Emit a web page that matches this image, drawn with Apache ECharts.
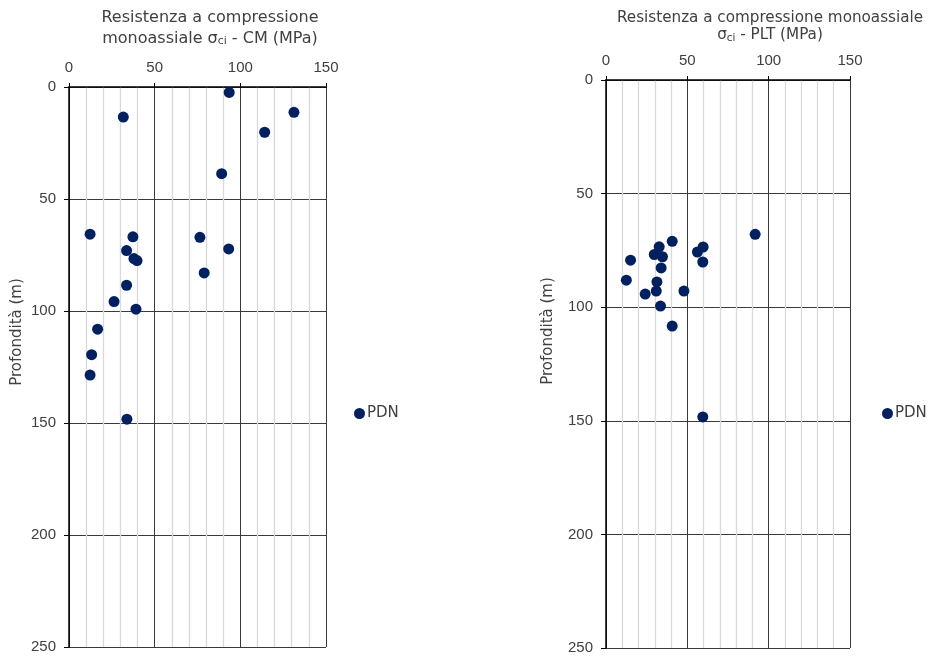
<!DOCTYPE html>
<html>
<head>
<meta charset="utf-8">
<script src="https://cdn.jsdelivr.net/npm/echarts@6/dist/echarts.min.js"></script>
<style>html,body{margin:0;padding:0;background:#fff}#c{width:929px;height:656px}</style>
</head>
<body>
<div id="c"></div>
<script>
// Left chart: CM
const cmX = [93.5, 31.7, 131.3, 114.2, 89.1, 12.3, 37.3, 76.4, 93.2, 33.6, 37.9, 39.7, 78.9, 33.6, 26.3, 39.1, 16.7, 13.2, 12.3, 33.8];
const cmY = [2.4, 13.4, 11.3, 20.2, 38.7, 65.7, 66.9, 67.1, 72.3, 73.0, 76.6, 77.5, 83.0, 88.5, 95.8, 99.2, 108.1, 119.5, 128.6, 148.3];
// Right chart: PLT
const pltX = [91.7, 40.7, 32.7, 59.7, 56.2, 29.7, 34.7, 15.1, 59.5, 33.9, 12.5, 31.3, 30.9, 47.9, 24.1, 33.5, 40.7, 59.5];
const pltY = [67.9, 71.0, 73.4, 73.5, 75.7, 76.8, 77.8, 79.3, 80.1, 82.7, 88.1, 88.9, 92.9, 92.9, 94.2, 99.5, 108.3, 148.3];

const seriesName = 'PDN';
const xTicks = [0, 50, 100, 150];
const yTicks = [0, 50, 100, 150, 200, 250];
const titleCM = ['Resistenza a compressione', 'monoassiale σ', 'ci', ' - CM (MPa)'];
const titlePLT = ['Resistenza a compressione monoassiale', 'σ', 'ci', ' - PLT (MPa)'];
const yName = 'Profondità (m)';

const FONT = '"DejaVu Sans", sans-serif';
const TICKFONT = '"Liberation Sans", Arial, sans-serif';
const TXT = '#404040';
const MARK = '#002060';

function toPairs(xs, ys) { return xs.map((x, i) => [x, ys[i]]); }

function xAxis(gi) {
  return {
    gridIndex: gi, type: 'value', position: 'top',
    min: xTicks[0], max: xTicks[xTicks.length - 1], interval: 50,
    axisLine: { show: true, onZero: false, lineStyle: { color: '#000', width: 1.5 } },
    axisTick: { show: true, inside: false, length: 4, lineStyle: { color: '#000' } },
    axisLabel: { color: TXT, fontSize: 15, fontFamily: TICKFONT, margin: 12 },
    splitLine: { show: true, lineStyle: { color: '#3a3a3a', width: 1 } },
    minorTick: { show: false, splitNumber: 5 },
    minorSplitLine: { show: true, lineStyle: { color: '#d9d9d9', width: 1.3 } }
  };
}
function yAxis(gi, gap, shift) {
  return {
    gridIndex: gi, type: 'value', inverse: true,
    min: yTicks[0], max: yTicks[yTicks.length - 1], interval: 50,
    name: yName, nameLocation: 'middle', nameGap: gap, nameRotate: 90,
    nameTextStyle: { color: TXT, fontSize: 15, fontFamily: FONT, padding: [0, 0, 0, shift] },
    axisLine: { show: true, onZero: false, lineStyle: { color: '#000', width: 1.5 } },
    axisTick: { show: true, inside: false, length: 5, lineStyle: { color: '#000' } },
    axisLabel: { color: TXT, fontSize: 15, fontFamily: TICKFONT, margin: 13 },
    splitLine: { show: true, lineStyle: { color: '#3a3a3a', width: 1 } }
  };
}
function rich(fs, lh) {
  return {
    a: { fontSize: fs, color: TXT, fontFamily: FONT, fontWeight: 'normal', lineHeight: lh },
    s: { fontSize: fs * 0.68, color: TXT, fontFamily: FONT, fontWeight: 'normal', lineHeight: lh, padding: [6, 0, 0, 0] }
  };
}

const option = {
  backgroundColor: '#fff',
  animation: false,
  textStyle: { fontFamily: FONT },
  title: [
    { text: '{a|' + titleCM[0] + '}\n{a|' + titleCM[1] + '}{s|' + titleCM[2] + '}{a|' + titleCM[3] + '}',
      left: 205, top: 2, textAlign: 'center', textStyle: { rich: rich(16, 21), fontWeight: 'normal' } },
    { text: '{a|' + titlePLT[0] + '}\n{a|' + titlePLT[1] + '}{s|' + titlePLT[2] + '}{a|' + titlePLT[3] + '}',
      left: 765, top: 5, textAlign: 'center', textStyle: { rich: rich(15.2, 17), fontWeight: 'normal' } }
  ],
  legend: [
    { data: [seriesName], left: 349, top: 401, icon: 'circle', itemWidth: 11, itemHeight: 11, itemGap: 2,
      textStyle: { color: TXT, fontSize: 15, fontFamily: FONT, padding: [0, 0, 0, -3] } },
    { data: [seriesName], left: 877, top: 401, icon: 'circle', itemWidth: 11, itemHeight: 11,
      textStyle: { color: TXT, fontSize: 15, fontFamily: FONT, padding: [0, 0, 0, -3] } }
  ],
  grid: [
    { left: 69, top: 87, width: 257, height: 560 },
    { left: 606, top: 80, width: 244, height: 568 }
  ],
  xAxis: [xAxis(0), xAxis(1)],
  yAxis: [yAxis(0, 44, 70), yAxis(1, 50, 66)],
  series: [
    { name: seriesName, type: 'scatter', xAxisIndex: 0, yAxisIndex: 0, symbolSize: 11,
      itemStyle: { color: MARK, opacity: 1 }, data: toPairs(cmX, cmY) },
    { name: seriesName, type: 'scatter', xAxisIndex: 1, yAxisIndex: 1, symbolSize: 11,
      itemStyle: { color: MARK, opacity: 1 }, data: toPairs(pltX, pltY) }
  ]
};
echarts.init(document.getElementById('c')).setOption(option);
</script>
</body>
</html>
